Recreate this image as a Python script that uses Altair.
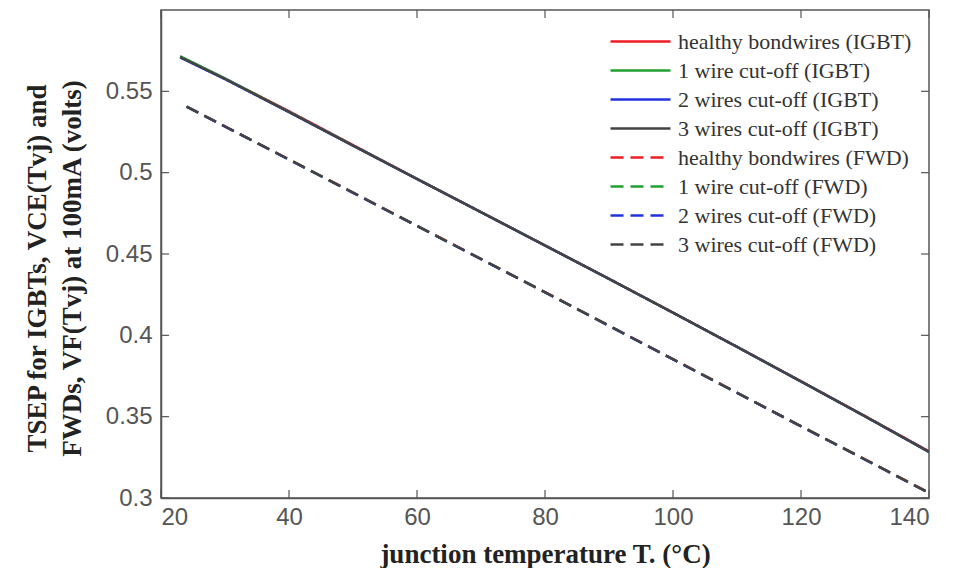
import altair as alt
import pandas as pd

# ---- data ----
series_names = [
    "healthy bondwires (IGBT)",
    "1 wire cut-off (IGBT)",
    "2 wires cut-off (IGBT)",
    "3 wires cut-off (IGBT)",
    "healthy bondwires (FWD)",
    "1 wire cut-off (FWD)",
    "2 wires cut-off (FWD)",
    "3 wires cut-off (FWD)",
]
series_colors = ["#ee1c25", "#22a032", "#2233dd", "#444444",
                 "#ee1c25", "#22a032", "#2233dd", "#444444"]

t_igbt = [23, 30, 40, 50, 60, 70, 80, 90, 100, 110, 120, 130, 140]
healthy_igbt = [0.5712, 0.5578, 0.5378, 0.5170, 0.4962, 0.4758, 0.4553, 0.4348, 0.4140, 0.3930, 0.3718, 0.3504, 0.3287]
wire1_igbt   = [0.5716, 0.5580, 0.5374, 0.5167, 0.4962, 0.4757, 0.4553, 0.4347, 0.4139, 0.3929, 0.3717, 0.3502, 0.3284]
wire2_igbt   = [0.5708, 0.5575, 0.5372, 0.5166, 0.4961, 0.4757, 0.4552, 0.4347, 0.4139, 0.3929, 0.3716, 0.3502, 0.3283]
wire3_igbt   = [0.5710, 0.5576, 0.5373, 0.5166, 0.4961, 0.4757, 0.4552, 0.4347, 0.4139, 0.3929, 0.3716, 0.3502, 0.3283]

t_fwd = [24, 30, 40, 50, 60, 70, 80, 90, 100, 110, 120, 130, 140]
healthy_fwd = [0.5407, 0.5285, 0.5082, 0.4878, 0.4674, 0.4470, 0.4266, 0.4060, 0.3854, 0.3648, 0.3442, 0.3238, 0.3033]
wire1_fwd   = [0.5406, 0.5284, 0.5081, 0.4877, 0.4673, 0.4469, 0.4265, 0.4059, 0.3853, 0.3647, 0.3441, 0.3237, 0.3032]
wire2_fwd   = [0.5405, 0.5283, 0.5080, 0.4876, 0.4672, 0.4468, 0.4264, 0.4058, 0.3852, 0.3646, 0.3440, 0.3236, 0.3030]
wire3_fwd   = [0.5406, 0.5284, 0.5081, 0.4877, 0.4673, 0.4469, 0.4265, 0.4059, 0.3853, 0.3647, 0.3441, 0.3237, 0.3031]

x_ticks = [20, 40, 60, 80, 100, 120, 140]
y_ticks = [0.3, 0.35, 0.4, 0.45, 0.5, 0.55]

# ---- long table ----
rows = []
all_series = [
    (t_igbt, healthy_igbt), (t_igbt, wire1_igbt), (t_igbt, wire2_igbt), (t_igbt, wire3_igbt),
    (t_fwd, healthy_fwd), (t_fwd, wire1_fwd), (t_fwd, wire2_fwd), (t_fwd, wire3_fwd),
]
for i, (name, (ts, vs)) in enumerate(zip(series_names, all_series)):
    for t, v in zip(ts, vs):
        rows.append({"series": name, "order": i, "T": t, "V": v})
df = pd.DataFrame(rows)

W, H = 768, 488
xscale = alt.Scale(domain=[20, 140], nice=False, zero=False)
yscale = alt.Scale(domain=[0.3, 0.6], nice=False, zero=False)

dashes = [[1, 0]] * 4 + [[13, 7]] * 4

lines = alt.Chart(df).mark_line(strokeWidth=2.4, clip=True).encode(
    x=alt.X("T:Q", scale=xscale,
            axis=alt.Axis(values=x_ticks, ticks=False, grid=False, title="junction temperature T. (°C)",
                          labelFont="Liberation Sans", labelFontSize=24, labelColor="#555555",
                          labelPadding=7, domainColor="#555555", domainWidth=1.5,
                          titleFont="Liberation Serif", titleFontSize=27, titleFontWeight="bold",
                          titleColor="#222222", titlePadding=12)),
    y=alt.Y("V:Q", scale=yscale,
            axis=alt.Axis(values=y_ticks, ticks=False, grid=False, format="~g",
                          title=["TSEP for IGBTs, VCE(Tvj) and", "FWDs, VF(Tvj) at 100mA (volts)"],
                          labelFont="Liberation Sans", labelFontSize=24, labelColor="#555555",
                          labelPadding=9, domainColor="#555555", domainWidth=1.5,
                          titleFont="Liberation Serif", titleFontSize=27, titleFontWeight="bold",
                          titleColor="#222222", titleLineHeight=35, titleAngle=270,
                          titleBaseline="middle", titleAlign="center",
                          titleX=-124, titleY=H / 2 + 14)),
    color=alt.Color("series:N", scale=alt.Scale(domain=series_names, range=series_colors),
                    sort=series_names,
                    legend=alt.Legend(title=None, orient="none", legendX=463, legendY=15,
                                      symbolType="M-2,0H2", symbolSize=900, symbolStrokeWidth=2.4,
                                      labelFont="Liberation Serif", labelFontSize=22,
                                      labelColor="#333333", rowPadding=1, labelOffset=21,
                                      labelLimit=400, padding=0)),
    strokeDash=alt.StrokeDash("series:N", scale=alt.Scale(domain=series_names, range=dashes),
                              sort=series_names, legend=alt.Legend(title=None)),
    detail="series:N",
    order="order:Q",
)

tick_df_x = pd.DataFrame({"T": x_ticks})
tick_df_y = pd.DataFrame({"V": y_ticks})
tick_style = dict(color="#555555", strokeWidth=1.2)

xt_bottom = alt.Chart(tick_df_x).mark_rule(**tick_style).encode(
    x=alt.X("T:Q", scale=xscale), y=alt.value(H), y2=alt.value(H - 8))
xt_top = alt.Chart(tick_df_x).mark_rule(**tick_style).encode(
    x=alt.X("T:Q", scale=xscale), y=alt.value(0), y2=alt.value(8))
yt_left = alt.Chart(tick_df_y).mark_rule(**tick_style).encode(
    y=alt.Y("V:Q", scale=yscale), x=alt.value(0), x2=alt.value(8))
yt_right = alt.Chart(tick_df_y).mark_rule(**tick_style).encode(
    y=alt.Y("V:Q", scale=yscale), x=alt.value(W), x2=alt.value(W - 8))

chart = alt.layer(xt_bottom, xt_top, yt_left, yt_right, lines).properties(
    width=W, height=H,
    autosize=alt.AutoSizeParams(type="none"),
    padding={"left": 153, "top": 2, "right": 30, "bottom": 70},
    background="white",
).configure_view(stroke="#555555", strokeWidth=1.5)

chart.save("out.html", embed_options={"renderer": "svg", "actions": False})
